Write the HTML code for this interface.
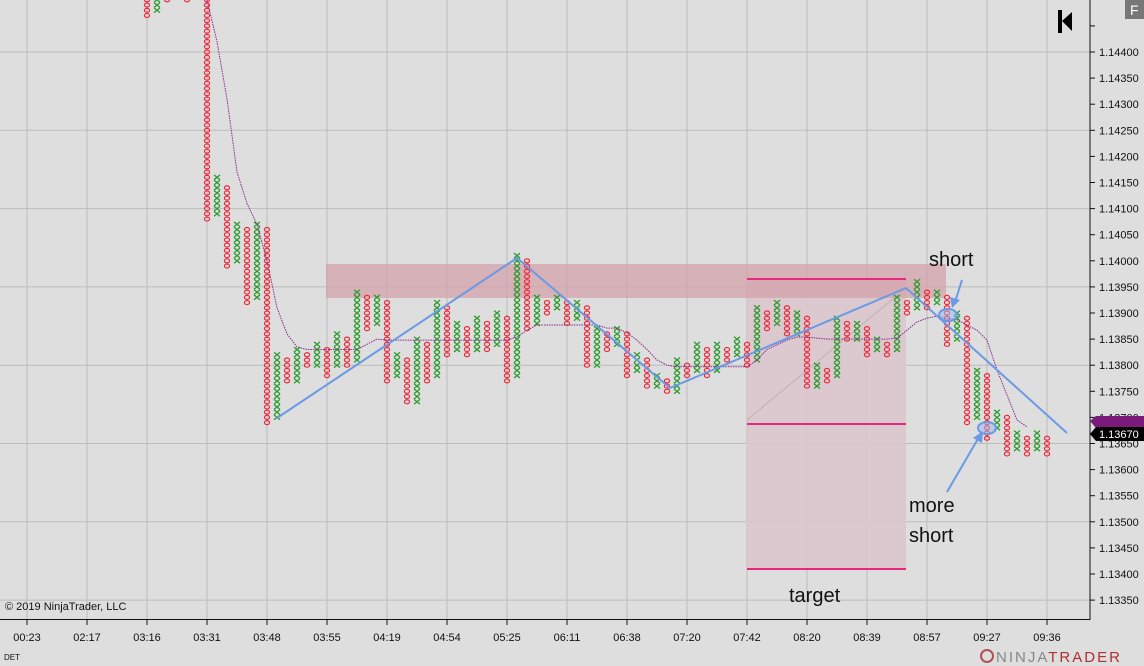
<!DOCTYPE html>
<html><head><meta charset="utf-8"><style>
html,body{margin:0;padding:0;background:#dedede;}
svg{display:block;font-family:"Liberation Sans",Arial,sans-serif;}
</style></head><body>
<svg id="c" width="1144" height="666" xmlns="http://www.w3.org/2000/svg">
<rect x="0" y="0" width="1144" height="666" fill="#dedede"/>
<g id="grid"></g>
<rect x="746" y="280" width="160" height="290" fill="#dcc5cd" opacity="0.9"/>
<rect x="326" y="264" width="620" height="34" fill="#d4a1ab" opacity="0.75"/>
<line x1="747" y1="420" x2="906" y2="288" stroke="#bdb2b6" stroke-width="1"/>
<g id="cols"></g>
<polyline id="ma" fill="none" stroke="#8a2a8a" stroke-width="1" stroke-dasharray="1.5,1"/>
<line x1="747" y1="279" x2="906" y2="279" stroke="#e8287e" stroke-width="2"/>
<line x1="747" y1="424" x2="906" y2="424" stroke="#e8287e" stroke-width="2"/>
<line x1="747" y1="569" x2="906" y2="569" stroke="#e8287e" stroke-width="2"/>
<polyline points="277,418 517,258 670,388 906,288 1067,433" fill="none" stroke="#6a9ae6" stroke-width="2"/>
<ellipse cx="948" cy="315" rx="9" ry="6" fill="#9ab8ee" fill-opacity="0.5" stroke="#6a9ae6" stroke-width="2"/>
<ellipse cx="987" cy="428" rx="9" ry="6" fill="#9ab8ee" fill-opacity="0.5" stroke="#6a9ae6" stroke-width="2"/>
<line x1="962" y1="280" x2="955" y2="302" stroke="#6a9ae6" stroke-width="2"/>
<polygon points="952,308 950,297 960,300" fill="#6a9ae6"/>
<line x1="947" y1="492" x2="979" y2="437" stroke="#6a9ae6" stroke-width="2"/>
<polygon points="983,431 982,443 973,438" fill="#6a9ae6"/>
<text x="929" y="266" font-size="20" fill="#111">short</text>
<text x="909" y="512" font-size="20" fill="#111">more</text>
<text x="909" y="542" font-size="20" fill="#111">short</text>
<text x="789" y="602" font-size="20" fill="#111">target</text>
<rect x="1090" y="0" width="54" height="620" fill="#dedede"/>
<rect x="0" y="620" width="1144" height="46" fill="#dedede"/>
<line x1="1090" y1="0" x2="1090" y2="620" stroke="#111" stroke-width="1"/>
<line x1="0" y1="619.5" x2="1090" y2="619.5" stroke="#111" stroke-width="1"/>
<g id="yax"></g>
<g id="xax"></g>
<polygon points="1090,421 1096,416 1144,416 1144,428 1096,428" fill="#7a1a7a"/>
<polygon points="1090,434 1096,427 1144,427 1144,441 1096,441" fill="#000"/>
<text x="1099" y="438" font-size="11" fill="#fff">1.13670</text>
<text x="5" y="610" font-size="11" fill="#111">© 2019 NinjaTrader, LLC</text>
<text x="4" y="660" font-size="8" fill="#111">DET</text>
<g><rect x="1058" y="10" width="4" height="23" fill="#000"/><polygon points="1062,21 1072,12 1072,31" fill="#000"/></g>
<g><rect x="1125" y="0" width="19" height="19" fill="#777"/><text x="1130" y="15" font-size="14" fill="#fff">F</text></g>
<g><circle cx="987" cy="656" r="6" fill="none" stroke="#b05050" stroke-width="2"/><text x="996" y="662" font-size="15" letter-spacing="2" fill="#888">NINJA<tspan fill="#b03030">TRADER</tspan></text></g>
</svg>
<script>
const boxSize = 0.0001;
const colTypes = "OX"; // even index = O, odd = X
const colTops = [1.1452,1.1452,1.1460,1.1462,1.1458,1.1460,1.1460,1.1416,1.1414,1.1407,1.1406,1.1407,1.1406,1.1382,1.1381,1.1383,1.1382,1.1384,1.1383,1.1386,1.1385,1.1394,1.1393,1.1393,1.1392,1.1382,1.1381,1.1385,1.1384,1.1392,1.1391,1.1388,1.1387,1.1389,1.1388,1.1390,1.1389,1.1401,1.1400,1.1393,1.1392,1.1393,1.1392,1.1392,1.1391,1.1387,1.1386,1.1387,1.1386,1.1382,1.1381,1.1378,1.1377,1.1381,1.1380,1.1384,1.1383,1.1384,1.1383,1.1385,1.1384,1.1391,1.1390,1.1392,1.1391,1.1390,1.1389,1.1380,1.1379,1.1389,1.1388,1.1388,1.1387,1.1385,1.1384,1.1393,1.1392,1.1396,1.1394,1.1394,1.1393,1.1390,1.1389,1.1379,1.1378,1.1371,1.1370,1.1367,1.1366,1.1367,1.1366];
const colBottoms = [1.1447,1.1448,1.1450,1.1451,1.1450,1.1452,1.1408,1.1409,1.1399,1.1400,1.1392,1.1393,1.1369,1.1370,1.1377,1.1377,1.1380,1.1380,1.1378,1.1380,1.1380,1.1381,1.1387,1.1388,1.1377,1.1378,1.1373,1.1373,1.1377,1.1378,1.1382,1.1383,1.1382,1.1383,1.1383,1.1384,1.1377,1.1378,1.1387,1.1388,1.1390,1.1391,1.1388,1.1389,1.1380,1.1380,1.1383,1.1384,1.1378,1.1379,1.1376,1.1376,1.1375,1.1375,1.1378,1.1379,1.1378,1.1379,1.1381,1.1382,1.1380,1.1381,1.1387,1.1388,1.1386,1.1386,1.1376,1.1376,1.1377,1.1378,1.1385,1.1385,1.1382,1.1383,1.1382,1.1383,1.1390,1.1391,1.1391,1.1392,1.1384,1.1385,1.1369,1.1370,1.1366,1.1368,1.1363,1.1364,1.1363,1.1364,1.1363];
const maStart = 6;
const maValues = [1.1450,1.1442,1.1431,1.1417,1.1411,1.1407,1.1400,1.1391,1.1386,1.13835,1.1383,1.1383,1.1383,1.1383,1.1383,1.1383,1.1384,1.1385,1.13848,1.13848,1.13848,1.13848,1.13848,1.13848,1.13848,1.13848,1.13848,1.13848,1.13848,1.13848,1.13848,1.13854,1.13867,1.13877,1.13877,1.13877,1.13877,1.13877,1.13877,1.13877,1.13871,1.13871,1.13862,1.13848,1.1383,1.1381,1.1380,1.13797,1.13797,1.13797,1.13797,1.13797,1.13797,1.13797,1.13797,1.1381,1.1383,1.13839,1.13848,1.13854,1.13854,1.13852,1.1385,1.1385,1.1385,1.1385,1.1385,1.1385,1.1385,1.13852,1.13867,1.13883,1.1389,1.13894,1.1389,1.13887,1.13877,1.13867,1.13848,1.13791,1.13743,1.13695,1.13682];
const yTicks = ["1.14450","1.14400","1.14350","1.14300","1.14250","1.14200","1.14150","1.14100","1.14050","1.14000","1.13950","1.13900","1.13850","1.13800","1.13750","1.13700","1.13650","1.13600","1.13550","1.13500","1.13450","1.13400","1.13350"];
const xLabels = ["00:23","02:17","03:16","03:31","03:48","03:55","04:19","04:54","05:25","06:11","06:38","07:20","07:42","08:20","08:39","08:57","09:27","09:36"];

const NS="http://www.w3.org/2000/svg";
function y(p){return 52+(1.144-p)/0.001*52.2;}
function cx(i){return 147+10*i;}
function gx(i){return 27+60*i;}
function mk(tag,attrs,parent){const e=document.createElementNS(NS,tag);for(const k in attrs)e.setAttribute(k,attrs[k]);parent.appendChild(e);return e;}

const grid=document.getElementById('grid');
for(let i=0;i<xLabels.length;i++){
  const l=mk('line',{x1:gx(i),x2:gx(i),y1:0,y2:619,stroke:'#bcbcbc','stroke-width':1},grid);
  
  
}
for(let k=0;k<yTicks.length;k++){
  const p=parseFloat(yTicks[k]);
  if(Math.round((1.144-p)/0.00005)%3===0){
    const l=mk('line',{x1:0,x2:1090,y1:y(p),y2:y(p),stroke:'#bcbcbc','stroke-width':1},grid);
    
    
  }
}

const cols=document.getElementById('cols');
for(let i=0;i<colTops.length;i++){
  const t=colTypes[i%2];
  const g=mk('g',{},cols);
  
  
  const n=Math.round((colTops[i]-colBottoms[i])/boxSize);
  for(let b=0;b<=n;b++){
    const p=colBottoms[i]+b*boxSize;
    const yy=y(p), x=cx(i);
    if(yy<-5||yy>625)continue;
    if(t==='O'){
      mk('ellipse',{cx:x,cy:yy,rx:2.6,ry:2.0,fill:'none',stroke:'#ee2a3a','stroke-width':1.2},g);
    }else{
      mk('path',{d:`M${x-3},${yy-2.4}L${x+3},${yy+2.4}M${x+3},${yy-2.4}L${x-3},${yy+2.4}`,stroke:'#2e9a2e','stroke-width':1.3,fill:'none'},g);
    }
  }
}
const pts=maValues.map((v,k)=>cx(maStart+k)+','+y(v).toFixed(1)).join(' ');
document.getElementById('ma').setAttribute('points',pts);

const yax=document.getElementById('yax');
for(let k=0;k<yTicks.length;k++){
  const p=parseFloat(yTicks[k]);const yy=y(p);
  const l=mk('line',{x1:1090,x2:1095,y1:yy,y2:yy,stroke:'#111'},yax);
  
  
  if(k>0){
    const t=mk('text',{x:1099,y:yy+4,'font-size':11,fill:'#111'},yax);
    t.textContent=yTicks[k];
    
    
  }
}
const xax=document.getElementById('xax');
for(let i=0;i<xLabels.length;i++){
  const l=mk('line',{x1:gx(i),x2:gx(i),y1:619,y2:625,stroke:'#111'},xax);
  
  
  const t=mk('text',{x:gx(i),y:641,'font-size':11,fill:'#111','text-anchor':'middle'},xax);
  t.textContent=xLabels[i];
  
  
}
</script>
</body></html>
